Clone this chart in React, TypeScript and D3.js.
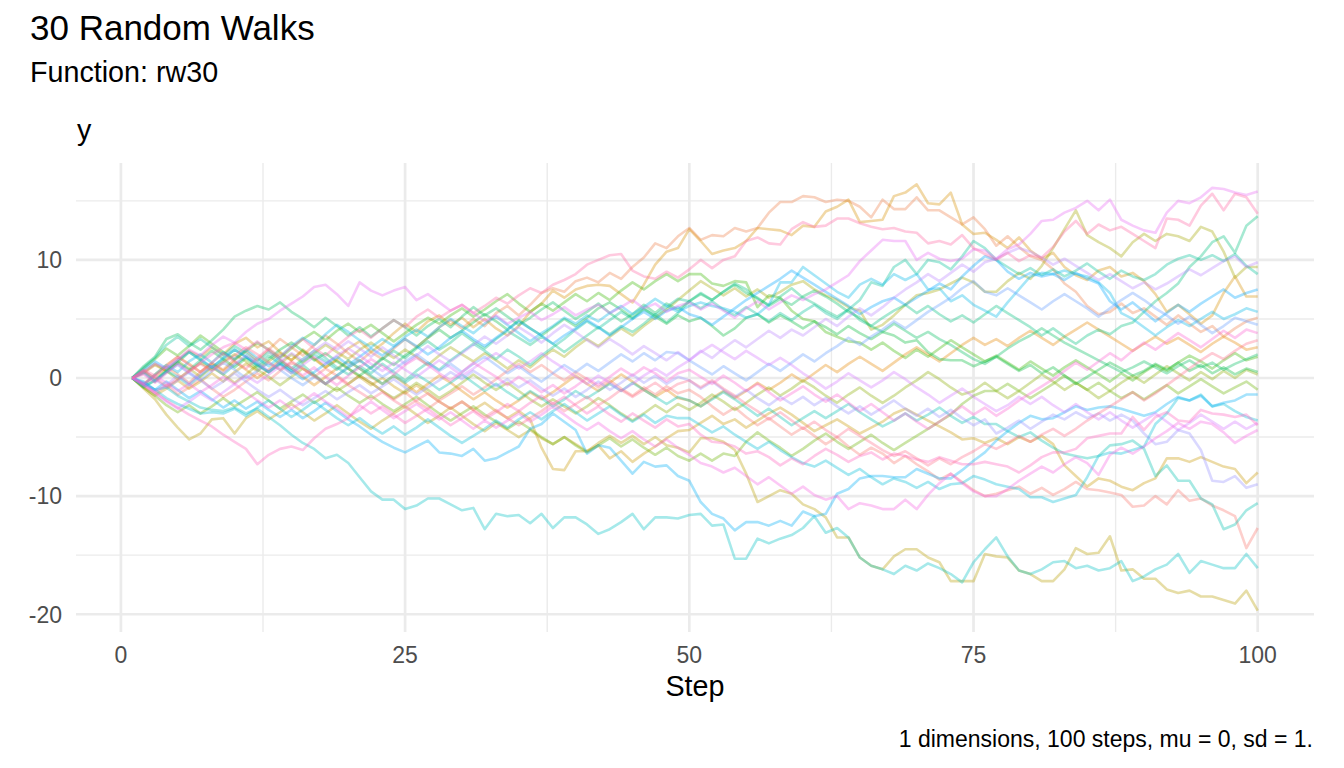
import React from 'react';
import * as d3 from 'd3';

// ---------- text ----------
const chartTitle = '30 Random Walks';
const chartSubtitle = 'Function: rw30';
const xAxisTitle = 'Step';
const yAxisTitle = 'y';
const chartCaption = '1 dimensions, 100 steps, mu = 0, sd = 1.';

// ---------- axes ----------
const steps = d3.range(1, 101);
const xTicks = [0, 25, 50, 75, 100];
const xMinorTicks = [12.5, 37.5, 62.5, 87.5];
const yTicks = [-20, -10, 0, 10];
const yMinorTicks = [-15, -5, 5, 15];

// ---------- walks (index = palette position) ----------
const w00 = [
  0, -0.7, -1.3, -0.6, -1.4, -0.8, -0.1, -0.9, -1.6, -1.0,
  -0.3, 0.4, -0.2, 0.6, 1.3, 0.8, 0.1, 0.8, 0.2, -0.5,
  0.2, -0.4, -1.1, -1.8, -1.2, -2.0, -2.6, -1.9, -1.3, -0.7,
  -1.4, -0.8, -0.1, 0.6, 1.2, 0.5, 1.1, 0.4, -0.2, 0.5,
  -0.1, -0.8, -0.2, -0.9, -1.5, -0.8, -1.4, -0.7, -1.3, -1.0,
  -1.6, -2.4, -3.1, -2.5, -3.3, -4.0, -3.4, -4.1, -4.8, -4.2,
  -4.9, -5.6, -5.0, -5.8, -6.5, -5.9, -6.4, -7.2, -6.6, -7.3,
  -7.9, -8.6, -8.1, -8.8, -9.5, -10.0, -9.8, -9.5, -9.2, -9.8,
  -9.3, -9.9, -9.4, -8.8, -9.4, -9.5, -9.7, -9.9, -10.9, -10.8,
  -10.0, -10.7, -9.5, -10.4, -10.2, -10.8, -11.2, -11.7, -14.4, -12.7,
];
const w01 = [
  0, -0.6, 0.2, 0.9, 0.3, -0.4, 0.5, 1.3, 0.7, 1.6,
  2.3, 1.5, 2.4, 3.3, 2.6, 1.9, 2.8, 3.6, 2.9, 2.1,
  1.4, 2.2, 1.6, 2.5, 3.3, 2.6, 3.4, 4.3, 4.9, 4.2,
  5.0, 4.4, 5.5, 6.1, 5.3, 6.2, 7.2, 7.6, 7.3, 8.2,
  8.5, 8.1, 8.9, 8.4, 9.4, 10.2, 11.4, 11.0, 12.0, 12.7,
  11.7, 12.1, 12.0, 12.7, 12.4, 12.7, 14.0, 14.9, 14.9, 15.4,
  15.3, 14.9, 15.1, 15.0, 14.5, 13.6, 15.1, 14.3, 14.3, 15.3,
  14.2, 14.2, 13.6, 13.0, 13.6, 12.6, 11.2, 12.0, 11.1, 10.3,
  10.0, 9.2, 8.0, 7.3, 6.1, 5.4, 5.6, 6.3, 5.5, 5.9,
  5.2, 4.5, 5.3, 4.6, 3.9, 4.4, 3.5, 4.2, 4.8, 5.1,
];
const w02 = [
  0, -0.5, 0.3, 1.1, 1.8, 1.2, 0.5, 1.2, 0.6, 1.4,
  0.7, 0.0, 0.7, 1.5, 0.8, 0.1, -0.6, 0.1, 0.8, 1.4,
  0.8, 0.1, -0.5, 0.2, -0.5, -1.2, -0.5, 0.2, -0.4, -1.1,
  -1.8, -1.2, -1.9, -2.5, -1.9, -1.2, -1.8, -1.2, -0.5, 0.2,
  -0.5, -1.1, -0.4, 0.3, -0.3, -1.0, -1.6, -1.0, -1.7, -1.9,
  -2.4, -1.7, -1.1, -1.7, -1.1, -0.4, -1.0, -0.4, 0.3, -0.3,
  0.4, 1.1, 0.5, 1.2, 1.8, 1.2, 0.6, 1.3, 2.0, 2.6,
  2.0, 1.4, 2.1, 2.8, 3.4, 2.8, 3.3, 2.7, 3.4, 4.0,
  3.4, 2.8, 3.5, 4.1, 4.7, 4.1, 3.5, 2.9, 2.3, 2.9,
  3.5, 2.9, 3.4, 2.8, 2.2, 2.9, 3.5, 3.0, 2.4, 2.6,
];
const w03 = [
  0, 0.4, 1.1, 0.6, 1.5, 2.3, 1.8, 2.6, 2.0, 2.9,
  3.4, 2.6, 3.1, 2.2, 1.5, 2.4, 1.7, 0.9, 1.6, 2.5,
  3.1, 2.2, 2.9, 3.8, 4.6, 3.9, 4.8, 5.3, 4.5, 5.1,
  4.3, 5.0, 4.2, 3.6, 4.4, 5.6, 6.3, 7.4, 6.8, 7.5,
  7.8, 7.9, 7.8, 7.1, 6.4, 7.9, 9.6, 10.7, 11.0, 12.6,
  11.6, 10.5, 10.8, 11.0, 11.6, 12.7, 12.6, 12.5, 12.1, 12.9,
  12.8, 14.1, 14.5, 15.1, 13.2, 13.3, 13.4, 15.4, 15.7, 16.4,
  14.8, 14.7, 15.7, 13.0, 12.2, 12.3, 11.7, 11.0, 11.9, 10.8,
  10.1, 10.6, 9.4, 8.7, 8.3, 9.1, 9.4, 8.6, 8.9, 8.2,
  7.1, 5.6, 6.2, 5.4, 4.6, 5.3, 7.2, 8.6, 6.9, 6.9,
];
const w04 = [
  0, -0.8, -1.5, -0.9, -0.2, -0.9, -0.3, 0.4, -0.3, 0.5,
  1.2, 0.6, 1.4, 2.1, 1.5, 2.3, 1.6, 0.9, 1.5, 0.8,
  0.1, -0.6, 0.0, -0.7, -1.3, -0.6, -1.3, -2.0, -2.6, -2.0,
  -2.7, -2.1, -2.8, -3.4, -2.8, -3.5, -5.9, -7.7, -7.8, -6.2,
  -6.2, -5.7, -6.8, -6.2, -7.1, -6.4, -5.8, -5.1, -4.5, -4.4,
  -3.8, -3.2, -3.9, -3.5, -4.2, -3.6, -3.0, -2.5, -3.1, -3.8,
  -4.5, -4.0, -3.5, -4.1, -4.7, -4.2, -3.7, -3.0, -2.6, -3.1,
  -3.6, -4.1, -4.6, -5.2, -5.1, -5.5, -5.1, -5.6, -5.0, -5.4,
  -4.9, -5.6, -7.4, -8.3, -9.2, -8.5, -8.7, -9.2, -9.5, -8.9,
  -8.5, -6.8, -6.8, -7.1, -6.7, -7.1, -7.5, -7.7, -8.9, -8.0,
];
const w05 = [
  0, -0.9, -1.8, -3.1, -4.2, -5.2, -4.7, -3.5, -3.4, -4.7,
  -3.4, -2.8, -3.5, -2.9, -2.2, -2.9, -3.6, -3.0, -2.3, -3.0,
  -3.7, -4.3, -3.6, -3.0, -2.4, -3.1, -3.8, -3.2, -2.5, -3.2,
  -3.9, -4.5, -3.8, -4.4, -5.0, -4.4, -5.1, -5.6, -5.0, -5.6,
  -6.2, -5.5, -4.9, -5.5, -4.9, -5.6, -5.0, -5.7, -5.9, -6.3,
  -5.1, -5.1, -5.4, -6.1, -8.1, -10.5, -10.0, -9.5, -9.8, -10.7,
  -11.1, -11.8, -13.5, -13.5, -15.2, -15.9, -16.2, -15.1, -14.5, -14.5,
  -15.2, -15.6, -17.2, -17.2, -17.2, -14.9, -15.1, -15.2, -16.3, -16.6,
  -17.2, -17.2, -16.2, -14.4, -14.9, -14.8, -13.4, -16.3, -16.2, -17.0,
  -17.0, -17.9, -18.2, -18.0, -18.5, -18.5, -18.8, -19.1, -18.0, -19.7,
];
const w06 = [
  0, 0.6, -0.1, 0.7, 1.4, 0.8, 0.1, 0.9, 0.3, -0.4,
  0.3, 1.1, 0.5, 1.2, 2.0, 1.3, 2.1, 2.8, 2.2, 1.6,
  2.4, 3.0, 2.3, 1.7, 2.4, 1.8, 1.1, 1.9, 2.6, 2.0,
  1.4, 2.1, 1.5, 0.8, 1.5, 0.9, 1.7, 2.4, 1.8, 2.6,
  3.3, 2.7, 3.5, 4.2, 3.6, 4.4, 5.1, 5.8, 6.6, 7.4,
  8.2, 7.6, 7.0, 7.6, 6.9, 7.5, 6.8, 7.3, 7.9, 8.2,
  7.5, 7.0, 6.6, 6.0, 5.7, 4.1, 4.5, 5.3, 6.2, 7.0,
  7.2, 7.5, 8.0, 8.5, 8.1, 7.3, 7.3, 8.2, 8.9, 8.4,
  9.5, 11.0, 12.6, 14.2, 12.1, 11.5, 11.0, 10.3, 11.5, 12.2,
  11.6, 12.2, 12.0, 11.6, 12.8, 12.4, 10.7, 8.5, 9.4, 9.4,
];
const w07 = [
  0, 0.5, 1.2, 0.6, -0.1, 0.6, 1.3, 0.7, 1.4, 2.0,
  1.4, 0.7, 0.1, -0.6, 0.1, 0.8, 0.2, -0.5, -1.1, -0.5,
  0.2, -0.4, -1.1, -1.7, -1.1, -0.4, -1.0, -1.7, -1.1, -0.4,
  0.3, -0.4, -1.0, -0.4, -1.1, -1.8, -2.4, -1.8, -2.4, -3.0,
  -2.4, -1.7, -2.3, -3.0, -3.6, -3.0, -2.3, -2.9, -2.2, -2.7,
  -2.1, -1.4, -2.0, -2.7, -2.1, -1.4, -0.8, -1.5, -0.9, -0.2,
  -0.8, -1.5, -2.1, -1.4, -0.8, -1.5, -2.1, -1.5, -0.8, -0.2,
  0.5, -0.1, -0.8, -1.4, -1.1, -0.4, -1.1, -1.7, -1.1, -0.4,
  0.3, -0.3, -1.0, -0.4, -1.0, -1.7, -1.1, -0.4, 0.2, -0.4,
  0.3, 1.0, 0.4, -0.2, 0.5, -0.1, 0.6, 0.0, 0.7, 0.3,
];
const w08 = [
  0, -0.8, -1.5, -2.3, -2.9, -2.3, -3.0, -2.4, -1.7, -2.4,
  -1.8, -1.2, -1.9, -2.6, -2.0, -1.4, -2.1, -1.5, -0.8, -1.5,
  -2.1, -1.5, -2.2, -2.8, -2.2, -1.6, -2.3, -3.0, -3.6, -3.0,
  -2.4, -3.1, -3.7, -4.3, -3.7, -4.3, -5.0, -5.6, -5.0, -5.7,
  -6.3, -5.7, -5.1, -5.8, -5.2, -5.9, -6.5, -5.9, -6.6, -7.0,
  -6.4, -7.0, -6.4, -6.6, -5.4, -4.6, -5.3, -5.9, -6.6, -6.0,
  -5.3, -4.7, -5.4, -6.0, -5.4, -4.8, -5.5, -6.1, -5.5, -4.9,
  -4.3, -3.7, -3.1, -2.2, -1.5, -1.1, -1.1, -0.5, -1.1, -1.7,
  -1.1, -0.5, 0.2, -0.4, -1.0, -0.4, -1.1, -1.7, -1.2, -1.8,
  -1.2, -0.6, -1.3, -0.7, -0.1, -0.7, -1.3, -0.8, -0.3, -1.0,
];
const w09 = [
  0, 0.8, 1.6, 2.5, 1.9, 2.7, 3.6, 2.9, 2.2, 1.5,
  2.3, 3.0, 2.4, 1.7, 2.5, 3.3, 3.9, 3.2, 4.0, 4.6,
  3.9, 4.5, 3.8, 3.1, 3.8, 4.5, 5.1, 4.6, 5.3, 5.9,
  5.2, 5.8, 6.5, 7.1, 6.3, 5.6, 6.3, 5.7, 6.4, 7.1,
  6.5, 7.2, 6.6, 7.4, 8.1, 7.5, 8.2, 8.8, 8.2, 8.8,
  8.8, 8.0, 7.8, 8.2, 8.1, 6.0, 7.0, 6.8, 5.7, 5.0,
  4.8, 3.9, 3.5, 3.1, 3.0, 2.4, 3.0, 2.3, 1.7, 2.4,
  1.8, 2.5, 3.2, 2.6, 2.0, 1.4, 1.9, 1.3, 0.7, 1.4,
  0.8, 0.2, 0.9, 1.5, 0.9, 0.3, -0.3, 0.4, -0.2, 0.5,
  1.1, 0.6, 1.3, 1.9, 1.4, 0.8, 1.5, 2.1, 1.5, 1.8,
];
const w10 = [
  0, 0.5, -0.3, 0.5, 1.3, 2.2, 1.5, 2.3, 1.6, 0.9,
  1.7, 0.9, 1.6, 2.4, 3.0, 2.3, 1.5, 2.1, 1.4, 0.8,
  0.2, 0.9, 1.7, 1.1, 1.9, 2.6, 3.4, 4.1, 3.4, 4.0,
  4.7, 5.4, 4.8, 4.1, 4.9, 4.2, 3.6, 4.3, 5.0, 4.4,
  5.1, 5.9, 6.4, 5.8, 5.1, 5.9, 5.2, 4.6, 5.3, 4.8,
  5.1, 4.4, 3.6, 4.2, 5.1, 5.4, 4.7, 5.3, 4.8, 4.2,
  4.8, 4.3, 3.7, 4.4, 3.8, 3.3, 3.9, 3.6, 3.0, 3.2,
  2.2, 1.6, 1.5, 1.5, 1.0, 1.4, 1.8, 1.2, 0.6, 1.1,
  0.4, 0.9, 0.2, -0.5, 0.1, 0.7, 1.3, 0.8, 0.2, 0.6,
  1.2, 0.7, 1.3, 0.6, 1.1, 0.4, 0.9, 0.3, 0.8, 0.5,
];
const w11 = [
  0, 1.0, 1.8, 3.3, 3.7, 3.0, 2.4, 3.2, 4.1, 5.2,
  5.7, 6.1, 5.8, 6.4, 5.6, 5.0, 4.3, 5.1, 4.4, 3.6,
  4.3, 3.5, 4.2, 4.9, 4.3, 3.6, 4.4, 5.0, 4.3, 5.2,
  6.0, 5.3, 5.9, 5.2, 4.5, 5.1, 5.8, 6.4, 5.7, 5.0,
  5.6, 6.3, 5.5, 4.8, 5.4, 6.2, 5.5, 6.3, 5.8, 6.5,
  7.1, 6.6, 7.3, 7.9, 7.2, 6.8, 6.1, 6.7, 6.2, 6.9,
  7.4, 6.9, 6.3, 5.6, 5.1, 4.4, 3.9, 4.6, 4.0, 3.4,
  3.9, 3.3, 2.8, 2.2, 1.6, 1.2, 1.8, 2.5, 3.1, 3.6,
  4.2, 3.6, 3.0, 2.5, 2.0, 1.5, 1.0, 0.5, 0.9, 1.4,
  0.9, 0.4, 1.0, 1.5, 0.9, 1.3, 0.7, 1.2, 1.6, 2.0,
];
const w12 = [
  0, -0.8, -0.2, 0.6, 1.3, 0.7, 1.5, 0.9, 1.6, 2.4,
  1.8, 1.1, 1.9, 1.2, 0.4, 1.1, 0.3, -0.5, 0.2, 0.9,
  1.5, 0.8, 1.6, 2.3, 1.7, 2.5, 3.1, 2.4, 3.0, 3.8,
  3.1, 2.5, 3.3, 4.0, 3.4, 2.8, 3.5, 2.9, 2.2, 2.9,
  3.6, 4.3, 3.7, 4.4, 3.9, 4.6, 5.4, 4.7, 5.5, 6.5,
  7.2, 6.6, 7.3, 8.0, 7.5, 6.7, 6.2, 6.9, 7.6, 6.8,
  6.3, 5.7, 5.2, 5.8, 4.9, 4.4, 5.1, 5.7, 6.2, 5.5,
  6.1, 5.4, 4.8, 5.3, 4.7, 5.4, 6.1, 5.5, 4.9, 4.3,
  3.6, 4.2, 3.5, 2.9, 3.6, 4.1, 3.7, 4.4, 4.7, 5.6,
  6.5, 7.2, 8.0, 9.4, 10.3, 11.5, 12.0, 10.6, 12.9, 13.7,
];
const w13 = [
  0, 0.9, 1.7, 2.8, 3.5, 2.7, 3.3, 2.6, 1.9, 2.7,
  2.1, 1.4, 2.2, 1.5, 0.8, 1.6, 2.3, 1.7, 0.9, 0.3,
  1.0, 0.4, 1.2, 0.5, -0.2, 0.6, 1.3, 0.7, 1.5, 2.2,
  2.9, 2.3, 1.6, 2.4, 1.8, 1.1, 1.9, 2.6, 3.3, 4.1,
  4.8, 4.2, 4.9, 5.6, 5.0, 5.8, 5.3, 6.0, 6.7, 6.5,
  5.9, 6.5, 5.8, 5.3, 6.0, 5.4, 4.8, 5.5, 4.9, 5.6,
  6.2, 5.5, 5.0, 5.8, 6.6, 8.1, 7.8, 9.4, 10.0, 8.8,
  10.0, 9.8, 9.2, 10.3, 11.6, 11.0, 10.0, 9.4, 8.8, 9.3,
  8.7, 9.2, 8.6, 9.1, 9.7, 9.0, 8.4, 9.1, 8.6, 8.3,
  8.8, 9.6, 10.1, 10.4, 10.0, 10.4, 9.9, 10.5, 9.5, 8.8,
];
const w14 = [
  0, -0.7, -0.2, 0.6, 0.1, -0.6, 0.2, 1.0, 0.3, 1.1,
  1.8, 1.2, 0.5, 1.3, 0.6, 1.4, 2.0, 1.4, 0.7, 1.5,
  0.8, 0.2, -0.5, 0.2, -0.4, 0.3, -0.3, -1.0, -0.4, 0.3,
  -0.4, -1.1, -0.5, -1.2, -1.8, -1.1, -1.7, -2.4, -1.8, -1.1,
  -1.7, -1.1, -0.5, -1.1, -0.4, -1.0, -1.6, -2.2, -1.6, -1.9,
  -2.4, -1.8, -1.2, -1.8, -2.5, -3.2, -2.6, -3.3, -4.0, -3.4,
  -2.8, -3.4, -2.8, -2.2, -2.9, -3.5, -4.1, -3.6, -3.0, -3.6,
  -3.1, -2.5, -3.2, -3.8, -3.3, -3.9, -3.9, -4.5, -5.0, -4.6,
  -5.3, -5.9, -6.4, -6.6, -6.8, -6.6, -5.7, -5.6, -5.3, -6.0,
  -8.3, -7.4, -8.7, -8.7, -10.2, -10.7, -12.8, -12.4, -11.2, -10.6,
];
const w15 = [
  0, -0.5, -1.0, -0.8, -1.5, -2.0, -2.5, -2.7, -2.8, -2.5,
  -3.0, -2.6, -3.3, -4.0, -4.8, -5.5, -6.0, -6.8, -6.5, -7.2,
  -8.4, -9.6, -10.3, -10.3, -11.1, -10.8, -10.2, -10.2, -10.7, -11.2,
  -11.0, -12.8, -11.5, -11.7, -11.6, -12.3, -11.5, -12.7, -11.8, -11.8,
  -12.4, -13.2, -12.8, -12.2, -11.5, -12.8, -11.8, -11.8, -11.9, -11.6,
  -11.5, -12.5, -12.4, -15.3, -15.3, -13.6, -14.0, -13.6, -13.3, -12.7,
  -11.7, -13.1, -12.7, -13.5, -15.2, -15.9, -16.2, -16.6, -15.9, -16.3,
  -15.7, -16.1, -16.6, -17.3, -15.6, -14.5, -13.5, -15.1, -16.3, -16.6,
  -16.2, -15.6, -15.5, -16.1, -15.9, -16.3, -16.1, -15.5, -17.2, -16.8,
  -16.2, -15.8, -14.9, -16.5, -15.5, -15.8, -16.1, -16.1, -14.9, -16.1,
];
const w16 = [
  0, -0.3, -1.0, -1.7, -2.2, -2.6, -3.0, -2.9, -3.0, -2.6,
  -3.2, -2.5, -1.9, -2.6, -3.3, -2.7, -2.0, -2.7, -3.4, -4.0,
  -3.4, -4.1, -4.7, -4.1, -4.8, -4.2, -3.5, -4.2, -4.9, -5.5,
  -4.9, -4.3, -3.6, -4.2, -3.5, -2.9, -3.5, -2.8, -2.2, -2.9,
  -3.6, -3.0, -2.4, -3.1, -3.7, -3.1, -3.8, -3.2, -3.4, -3.4,
  -4.0, -4.6, -4.1, -4.8, -5.4, -6.0, -5.4, -6.1, -6.7, -7.2,
  -7.5, -7.0, -7.6, -8.2, -7.7, -8.4, -9.0, -8.5, -8.8, -9.3,
  -8.8, -9.4, -9.0, -8.9, -8.3, -8.6, -9.0, -9.2, -9.4, -10.1,
  -10.1, -10.5, -10.2, -9.9, -8.4, -6.6, -6.3, -6.4, -6.1, -5.8,
  -3.9, -3.0, -1.7, -1.9, -1.4, -2.4, -2.2, -2.8, -3.3, -3.6,
];
const w17 = [
  0, -0.6, 0.3, 1.1, 0.5, 1.4, 2.0, 1.3, 2.2, 1.6,
  2.4, 1.7, 1.0, 1.8, 2.7, 3.4, 2.8, 3.7, 4.5, 3.9,
  3.2, 2.6, 3.3, 2.7, 3.5, 4.1, 3.5, 4.3, 5.0, 4.4,
  3.8, 4.6, 5.2, 4.5, 3.8, 3.1, 3.8, 4.4, 5.1, 4.6,
  5.3, 4.8, 5.5, 6.1, 5.4, 6.0, 6.7, 6.1, 5.6, 6.1,
  6.4, 6.1, 5.9, 5.6, 5.1, 5.4, 6.2, 8.1, 8.1, 9.4,
  8.7, 8.0, 7.3, 6.8, 7.9, 8.4, 7.9, 8.8, 8.3, 8.8,
  7.5, 7.6, 6.5, 7.0, 6.2, 5.7, 5.2, 6.4, 7.5, 8.6,
  8.9, 8.8, 9.1, 8.8, 8.6, 8.1, 7.2, 5.5, 5.0, 4.3,
  3.6, 4.3, 4.9, 4.4, 5.0, 5.6, 5.0, 5.4, 5.9, 5.6,
];
const w18 = [
  0, -0.4, -1.0, -0.3, -1.0, -1.7, -1.1, -1.8, -2.5, -1.9,
  -2.6, -2.0, -2.7, -3.3, -2.7, -3.4, -2.8, -2.1, -2.8, -3.5,
  -4.1, -4.8, -5.4, -5.9, -6.3, -5.8, -5.3, -6.3, -6.4, -6.6,
  -6.0, -7.0, -6.8, -6.3, -5.8, -4.3, -3.9, -3.0, -3.7, -4.4,
  -6.4, -5.7, -5.9, -7.0, -8.1, -7.1, -7.5, -7.4, -8.3, -8.7,
  -10.5, -11.5, -11.9, -12.9, -12.2, -12.2, -12.5, -12.1, -12.5, -11.3,
  -11.7, -11.5, -9.8, -9.4, -8.5, -8.3, -8.3, -8.4, -8.4, -7.7,
  -8.1, -8.5, -8.5, -7.8, -7.0, -6.3, -5.3, -4.5, -3.8, -3.2,
  -3.5, -3.4, -2.9, -2.4, -2.7, -2.5, -2.4, -2.6, -2.9, -3.2,
  -2.9, -2.2, -1.6, -1.9, -1.5, -2.4, -2.1, -1.9, -1.4, -1.4,
];
const w19 = [
  0, 0.7, 1.4, 0.8, 1.5, 2.2, 1.6, 0.9, 1.7, 2.4,
  1.8, 1.1, 0.5, 1.2, 0.6, -0.1, 0.5, 1.2, 1.8, 1.1,
  1.8, 2.5, 1.9, 2.6, 3.3, 2.7, 2.0, 2.6, 3.4, 4.0,
  3.3, 2.7, 3.4, 4.1, 4.8, 4.2, 3.6, 2.9, 3.6, 4.2,
  4.9, 4.3, 3.6, 4.3, 5.0, 5.6, 5.0, 5.7, 6.0, 5.4,
  5.1, 4.5, 5.2, 5.9, 6.6, 7.2, 7.8, 8.4, 9.1, 8.5,
  7.9, 7.3, 6.7, 6.1, 5.4, 6.0, 6.5, 6.8, 6.2, 6.8,
  7.4, 8.0, 7.5, 8.6, 9.5, 10.3, 10.0, 9.0, 8.4, 8.9,
  8.6, 8.8, 8.3, 8.9, 8.4, 8.0, 6.5, 5.8, 6.4, 5.6,
  4.8, 5.5, 6.2, 5.6, 6.3, 6.9, 7.5, 6.8, 7.2, 7.5,
];
const w20 = [
  0, 0.4, -0.3, 0.5, 1.1, 0.4, -0.2, 0.6, 1.3, 0.7,
  0.0, 0.6, 1.3, 0.7, 0.0, -0.6, 0.1, -0.5, 0.2, 0.9,
  1.5, 0.8, 0.1, 0.7, 1.4, 2.0, 1.3, 0.6, 1.2, 0.5,
  1.2, 1.8, 1.1, 0.4, 1.0, 0.3, -0.3, 0.4, 1.1, 0.5,
  1.2, 0.6, 1.3, 2.0, 1.4, 2.1, 1.5, 2.2, 2.1, 1.5,
  0.9, 0.3, 1.0, 0.4, -0.2, 0.5, 1.2, 0.6, 1.3, 2.0,
  1.4, 2.1, 2.7, 3.4, 2.8, 3.5, 4.1, 4.8, 4.2, 4.9,
  5.6, 6.2, 6.8, 7.6, 8.2, 7.3, 7.0, 7.6, 7.0, 6.4,
  5.8, 6.5, 7.1, 6.5, 5.9, 5.2, 5.9, 6.6, 7.2, 6.6,
  5.9, 5.3, 4.6, 5.2, 4.5, 3.8, 4.4, 5.1, 4.8, 4.5,
];
const w21 = [
  0, 0.6, -0.1, -0.8, -0.2, 0.5, -0.2, -0.9, -0.3, 0.4,
  -0.3, -1.0, -1.6, -1.0, -1.7, -2.3, -1.7, -1.1, -1.8, -1.2,
  -0.6, -1.3, -0.7, -0.1, -0.8, -1.4, -0.8, -0.2, 0.5, -0.1,
  0.6, 0.0, -0.7, -0.1, -0.8, -0.2, -0.9, -1.5, -0.9, -1.6,
  -1.0, -0.3, -1.0, -0.4, 0.3, -0.4, 0.2, -0.5, 0.1, -0.2,
  -0.9, -0.3, -1.0, -1.6, -1.0, -1.7, -2.3, -1.6, -2.2, -1.6,
  -2.3, -1.7, -2.4, -3.0, -2.4, -3.1, -2.5, -1.9, -2.6, -3.2,
  -2.6, -3.3, -2.7, -3.4, -4.0, -3.5, -4.7, -4.2, -3.6, -4.3,
  -3.7, -3.1, -3.5, -2.9, -3.4, -3.0, -3.6, -3.1, -3.6, -4.7,
  -5.6, -5.4, -4.4, -4.7, -6.1, -8.7, -8.8, -8.3, -9.3, -9.0,
];
const w22 = [
  0, -0.4, -1.1, -0.6, 0.2, -0.5, 0.3, 1.0, 0.4, 1.2,
  1.9, 1.3, 0.6, 1.4, 2.1, 1.5, 2.3, 3.0, 2.4, 3.1,
  2.5, 1.8, 2.6, 1.9, 1.2, 1.9, 2.7, 2.0, 1.4, 2.1,
  2.8, 3.5, 2.9, 3.6, 4.3, 3.7, 3.0, 3.8, 4.5, 3.9,
  3.2, 2.6, 3.3, 2.7, 2.0, 2.7, 2.1, 1.5, 2.2, 1.5,
  2.3, 1.7, 2.5, 3.2, 2.6, 3.3, 4.0, 3.4, 4.1, 3.6,
  4.3, 5.0, 4.4, 5.2, 5.9, 5.3, 6.0, 6.8, 7.5, 8.1,
  8.8, 8.2, 8.9, 9.6, 9.0, 9.8, 10.1, 10.6, 11.0, 10.7,
  10.2, 9.6, 10.1, 9.5, 8.9, 8.3, 8.8, 8.2, 7.6, 8.1,
  7.5, 8.0, 8.6, 9.2, 8.7, 9.3, 9.9, 10.3, 9.4, 9.8,
];
const w23 = [
  0, -0.6, -1.3, -2.0, -2.6, -2.0, -1.3, -1.9, -1.2, -0.5,
  0.2, -0.4, 0.3, 1.0, 0.4, 1.1, 1.8, 1.2, 1.9, 2.5,
  1.9, 1.2, 0.6, 1.3, 0.7, 0.1, 0.8, 1.5, 0.9, 0.2,
  0.8, 1.5, 2.1, 1.5, 0.8, 1.4, 2.1, 1.4, 0.8, 0.1,
  -0.5, 0.2, -0.4, -1.1, -0.5, 0.2, 0.8, 0.2, 0.9, 1.5,
  2.2, 2.8, 2.2, 1.6, 2.3, 1.7, 1.1, 1.7, 1.1, 0.4,
  -0.2, -0.9, -0.3, 0.4, -0.2, -0.8, -0.2, 0.5, -0.1, -0.8,
  -1.4, -2.1, -1.5, -0.9, -1.6, -2.2, -2.8, -2.3, -1.6, -2.2,
  -1.6, -2.3, -2.9, -2.2, -2.9, -3.5, -2.9, -3.6, -4.2, -3.6,
  -3.0, -3.7, -4.4, -3.8, -3.1, -3.7, -4.3, -3.7, -4.3, -3.8,
];
const w24 = [
  0, 0.5, 1.2, 0.8, 1.6, 2.4, 1.9, 2.8, 3.5, 3.0,
  3.9, 4.6, 5.0, 5.7, 6.3, 6.9, 7.7, 7.9, 7.1, 6.1,
  8.1, 7.4, 7.0, 7.4, 7.7, 6.6, 7.1, 6.4, 5.7, 6.2,
  5.5, 4.8, 5.3, 4.6, 5.1, 5.6, 4.9, 5.4, 6.0, 5.3,
  5.8, 6.2, 5.5, 6.0, 6.6, 5.9, 6.3, 5.6, 6.1, 6.4,
  5.8, 6.3, 5.7, 5.1, 5.9, 6.5, 5.8, 6.4, 7.0, 6.6,
  7.1, 7.5, 8.1, 8.7, 9.9, 10.8, 11.7, 11.6, 11.6, 10.0,
  10.6, 10.1, 9.9, 10.1, 10.9, 10.8, 10.1, 10.9, 11.3, 12.2,
  13.3, 13.4, 14.0, 14.4, 15.0, 14.2, 15.1, 13.4, 12.9, 12.5,
  12.3, 14.0, 15.0, 14.8, 15.3, 16.1, 16.0, 15.7, 15.5, 15.8,
];
const w25 = [
  0, -0.5, 0.2, -0.4, -1.1, -0.5, -1.2, -0.6, 0.1, -0.5,
  -1.2, -1.9, -2.5, -1.9, -2.6, -2.0, -1.3, -2.0, -2.6, -3.3,
  -2.7, -2.0, -2.7, -3.4, -2.8, -2.2, -2.9, -3.5, -2.9, -3.6,
  -4.3, -3.6, -4.2, -3.6, -3.0, -3.7, -3.1, -2.4, -3.1, -3.8,
  -4.4, -3.8, -4.5, -5.1, -4.5, -5.2, -5.8, -5.2, -5.9, -6.5,
  -7.2, -7.5, -8.0, -7.6, -8.3, -9.0, -8.4, -9.1, -9.8, -9.2,
  -9.9, -10.3, -10.0, -11.1, -10.6, -10.8, -11.1, -11.1, -10.3, -11.1,
  -9.9, -8.9, -8.1, -8.9, -9.6, -10.0, -10.0, -9.4, -8.7, -8.1,
  -7.5, -8.0, -7.3, -6.7, -7.2, -8.2, -6.5, -5.9, -6.4, -5.8,
  -5.1, -4.5, -3.8, -4.3, -3.7, -3.9, -4.6, -5.5, -4.9, -4.4,
];
const w26 = [
  0, 0.3, -0.4, 0.4, 1.2, 0.5, 1.3, 2.0, 2.6, 3.0,
  2.4, 3.1, 2.3, 1.6, 0.9, 0.2, 0.9, 0.1, -0.6, 0.2,
  0.9, 1.6, 1.0, 0.3, 1.1, 1.7, 1.1, 0.4, -0.2, 0.5,
  1.3, 0.7, 0.1, -0.6, 0.1, -0.5, -1.2, -0.6, -1.3, -0.7,
  0.0, -0.6, 0.1, 0.8, 0.2, 0.9, 0.4, -0.3, 0.4, 0.7,
  0.1, -0.5, 0.2, -0.4, -1.1, -0.5, -1.2, -1.9, -1.3, -0.7,
  -1.4, -2.0, -1.4, -2.1, -2.8, -2.2, -2.9, -3.6, -3.0, -3.7,
  -4.3, -3.7, -3.0, -2.4, -3.1, -2.5, -3.2, -2.6, -1.9, -1.3,
  -0.7, -0.1, 0.6, 1.3, 0.7, 1.4, 2.1, 1.5, 2.3, 3.0,
  2.4, 3.1, 3.8, 3.2, 2.6, 3.3, 4.0, 3.4, 4.1, 3.8,
];
const w27 = [
  0, -0.6, -1.2, -1.9, -2.5, -3.1, -3.6, -4.1, -4.8, -5.4,
  -6.0, -7.3, -6.5, -6.0, -5.8, -6.1, -5.1, -4.3, -3.9, -3.4,
  -2.3, -3.0, -2.4, -3.1, -3.8, -3.2, -2.6, -3.3, -4.0, -3.4,
  -2.8, -3.5, -2.9, -2.2, -2.8, -2.1, -1.5, -2.2, -1.6, -2.3,
  -3.0, -2.4, -3.1, -3.7, -3.0, -3.6, -4.2, -3.5, -4.1, -3.9,
  -4.8, -5.4, -5.5, -5.8, -6.4, -6.2, -6.7, -7.4, -6.8, -7.3,
  -6.6, -6.0, -6.5, -7.1, -6.6, -6.3, -6.9, -6.4, -6.6, -6.9,
  -7.1, -6.7, -7.0, -7.3, -7.3, -7.1, -7.3, -7.5, -8.0, -7.4,
  -6.7, -6.3, -6.3, -6.0, -5.1, -4.9, -4.7, -4.7, -3.3, -4.4,
  -3.3, -2.9, -3.6, -3.7, -2.7, -3.0, -3.1, -3.3, -3.1, -4.0,
];
const w28 = [
  0, 0.7, 0.2, 1.0, 1.8, 1.1, 0.5, 1.3, 2.1, 1.4,
  0.8, 1.7, 2.5, 1.8, 2.6, 3.3, 2.5, 1.9, 2.7, 3.5,
  4.1, 3.4, 4.2, 4.9, 4.3, 5.2, 5.8, 5.1, 5.7, 6.2,
  5.5, 6.1, 6.8, 6.3, 7.0, 7.6, 7.2, 7.9, 8.3, 8.8,
  9.6, 10.0, 10.4, 10.5, 9.1, 8.6, 8.4, 9.0, 8.5, 9.2,
  10.0, 9.3, 10.0, 10.3, 11.6, 11.9, 11.4, 11.3, 12.6, 13.2,
  12.8, 12.9, 13.5, 13.5, 13.1, 12.8, 12.6, 12.7, 12.4, 12.3,
  11.4, 11.6, 11.3, 12.1, 11.0, 10.5, 10.0, 10.6, 9.9, 10.4,
  10.2, 11.1, 12.4, 13.3, 12.2, 13.0, 12.5, 12.8, 12.2, 11.6,
  11.0, 13.5, 13.4, 12.9, 14.6, 15.6, 14.2, 15.6, 15.3, 13.9,
];
const w29 = [
  0, 0.6, 0.0, -0.7, -0.1, 0.6, 1.2, 0.6, 1.3, 1.9,
  2.6, 2.0, 1.3, 0.7, 1.4, 0.8, 0.2, -0.5, 0.1, -0.6,
  -1.2, -1.8, -1.2, -1.9, -2.5, -1.9, -1.3, -2.0, -2.6, -2.0,
  -2.7, -3.3, -2.7, -3.4, -4.0, -3.4, -2.8, -2.1, -2.8, -2.2,
  -1.6, -2.3, -1.7, -1.0, -1.6, -1.0, -0.4, -1.1, -0.5, -0.2,
  -0.8, -0.2, -0.9, -1.5, -2.2, -2.8, -3.5, -2.9, -3.6, -4.3,
  -3.7, -4.4, -5.0, -4.3, -4.9, -5.5, -6.1, -6.6, -6.2, -6.8,
  -7.4, -6.8, -7.3, -6.7, -6.2, -5.6, -6.0, -5.5, -4.9, -5.4,
  -4.8, -4.3, -4.9, -4.3, -3.6, -3.0, -2.4, -1.8, -1.2, -1.9,
  -1.3, -0.6, 0.1, 0.8, 1.5, 2.1, 1.6, 2.3, 2.9, 3.2,
];

const walks = [
  w00, w01, w02, w03, w04, w05, w06, w07, w08, w09,
  w10, w11, w12, w13, w14, w15, w16, w17, w18, w19,
  w20, w21, w22, w23, w24, w25, w26, w27, w28, w29,
];

// R's hcl() (polar CIE-LUV) -> hex, used to mimic ggplot's default hue palette
function hclR(h: number, c: number, l: number): string {
  const WY = 100, Wu = 0.1978398, Wv = 0.4683363;
  const hr = (h * Math.PI) / 180;
  const U = c * Math.cos(hr);
  const V = c * Math.sin(hr);
  const Y = WY * (l > 7.999592 ? Math.pow((l + 16) / 116, 3) : l / 903.3);
  const u = U / (13 * l) + Wu;
  const v = V / (13 * l) + Wv;
  const X = (9 * Y * u) / (4 * v);
  const Z = -X / 3 - 5 * Y + (3 * Y) / v;
  const g = (t: number) => (t > 0.00304 ? 1.055 * Math.pow(t, 1 / 2.4) - 0.055 : 12.92 * t);
  const cl = (t: number) => Math.max(0, Math.min(1, t));
  const r = cl(g((3.240479 * X - 1.53715 * Y - 0.498535 * Z) / WY));
  const gg = cl(g((-0.969256 * X + 1.875992 * Y + 0.041556 * Z) / WY));
  const b = cl(g((0.055648 * X - 0.204043 * Y + 1.057311 * Z) / WY));
  return d3.rgb(r * 255, gg * 255, b * 255).formatHex();
}

export default function App() {
  const W = 1344;
  const H = 768;
  const panel = { left: 76, right: 1314, top: 163, bottom: 632 };
  const font = '"Liberation Sans", Arial, Helvetica, sans-serif';

  const n = walks.length;
  const palette = d3.range(n).map((i) => hclR(15 + (360 / n) * i, 100, 65));

  const xMin = d3.min(steps) as number;
  const xMax = d3.max(steps) as number;
  const xPad = (xMax - xMin) * 0.05;
  const x = d3.scaleLinear().domain([xMin - xPad, xMax + xPad]).range([panel.left, panel.right]);

  const all = walks.flat();
  const yMin = d3.min(all) as number;
  const yMax = d3.max(all) as number;
  const yPad = (yMax - yMin) * 0.05;
  const y = d3.scaleLinear().domain([yMin - yPad, yMax + yPad]).range([panel.bottom, panel.top]);

  const line = d3
    .line<number>()
    .x((_, i) => x(steps[i]))
    .y((d) => y(d));

  const gridColor = '#EBEBEB';
  const tickColor = '#4D4D4D';

  return (
    <svg
      width={W}
      height={H}
      viewBox={`0 0 ${W} ${H}`}
      style={{ position: 'absolute', left: 0, top: 0, display: 'block' }}
      fontFamily={font}
    >
      <rect x={0} y={0} width={W} height={H} fill="#FFFFFF" />

      {/* grid */}
      <g>
        {yMinorTicks.map((t) => (
          <line key={`ym${t}`} x1={panel.left} x2={panel.right} y1={y(t)} y2={y(t)} stroke={gridColor} strokeWidth={1.4} />
        ))}
        {xMinorTicks.map((t) => (
          <line key={`xm${t}`} x1={x(t)} x2={x(t)} y1={panel.top} y2={panel.bottom} stroke={gridColor} strokeWidth={1.4} />
        ))}
        {yTicks.map((t) => (
          <line key={`y${t}`} x1={panel.left} x2={panel.right} y1={y(t)} y2={y(t)} stroke={gridColor} strokeWidth={2.7} />
        ))}
        {xTicks.map((t) => (
          <line key={`x${t}`} x1={x(t)} x2={x(t)} y1={panel.top} y2={panel.bottom} stroke={gridColor} strokeWidth={2.7} />
        ))}
      </g>

      {/* walks */}
      <g fill="none" strokeLinejoin="round" strokeLinecap="butt">
        {walks.map((w, i) => (
          <path key={i} d={line(w) || ''} stroke={palette[i]} strokeOpacity={0.35} strokeWidth={2.6} />
        ))}
      </g>

      {/* axis labels */}
      <g fontSize={23} fill={tickColor}>
        {xTicks.map((t) => (
          <text key={`xl${t}`} x={x(t)} y={663} textAnchor="middle">
            {t}
          </text>
        ))}
        {yTicks.map((t) => (
          <text key={`yl${t}`} x={62} y={y(t)} dy="0.36em" textAnchor="end">
            {t}
          </text>
        ))}
      </g>

      <text x={(panel.left + panel.right) / 2} y={696} textAnchor="middle" fontSize={28.7} fill="#000000">
        {xAxisTitle}
      </text>
      <text x={77} y={140} fontSize={28.7} fill="#000000">
        {yAxisTitle}
      </text>

      <text x={30} y={40} fontSize={35} fill="#000000">
        {chartTitle}
      </text>
      <text x={30} y={82} fontSize={28.7} fill="#000000">
        {chartSubtitle}
      </text>
      <text x={1313} y={747} textAnchor="end" fontSize={23} fill="#000000">
        {chartCaption}
      </text>
    </svg>
  );
}
